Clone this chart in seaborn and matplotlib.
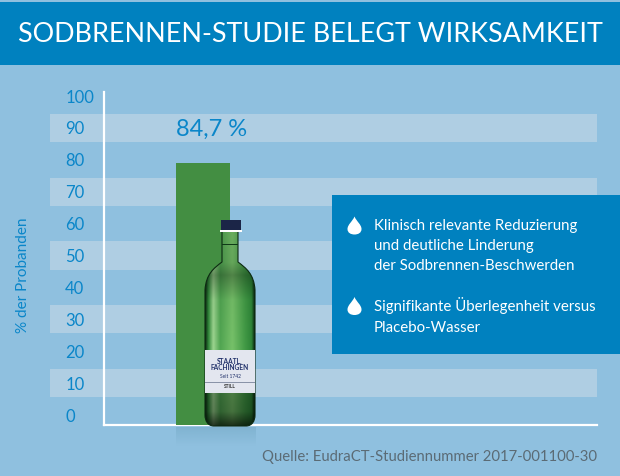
import numpy as np
import pandas as pd
import matplotlib
matplotlib.use("Agg")
import matplotlib.pyplot as plt
import seaborn as sns
from matplotlib.colors import LinearSegmentedColormap, to_rgb
from matplotlib.patches import Rectangle, PathPatch
from matplotlib.path import Path

# =====================
# Data
# =====================
categories = ["Sodbrennen-Studie"]
bar_top = [79.0]          # where the bar ends on the printed axis
bar_label = "84,7 %"
y_ticks = [0, 10, 20, 30, 40, 50, 60, 70, 80, 90, 100]
band_ticks = [90, 70, 50, 30, 10]
title = "SODBRENNEN-STUDIE BELEGT WIRKSAMKEIT"
y_label = "% der Probanden"
source = "Quelle: EudraCT-Studiennummer 2017-001100-30"
box_lines_1 = "Klinisch relevante Reduzierung\nund deutliche Linderung\nder Sodbrennen-Beschwerden"
box_lines_2 = "Signifikante Überlegenheit versus\nPlacebo-Wasser"

BG = "#8fc0df"
BAND = "#afcee3"
BLUE = "#0081bf"
TEXT = "#0a86c9"
GREEN = "#438e42"
FONT = "Lato"
W, H = 620, 476

sns.set_theme(style="white")
plt.rcParams["font.family"] = [FONT, "DejaVu Sans"]

fig = plt.figure(figsize=(W / 100, H / 100), dpi=100, facecolor=BG)

# chart axes, placed in pixels
left, right, top, bottom = 104, 597, 92, 425
ax = fig.add_axes([left / W, 1 - bottom / H, (right - left) / W, (bottom - top) / H])
ax.patch.set_alpha(0)
px_per_unit = 3.19
y0_px = 415
floor = -(bottom - y0_px) / px_per_unit
ax.set_ylim(floor, (y0_px - top) / px_per_unit)

df = pd.DataFrame({"cat": categories, "height": [bar_top[0] - floor]})
sns.barplot(data=df, x="cat", y="height", color=GREEN, saturation=1, bottom=floor,
            width=1, linewidth=0, ax=ax, zorder=3)
ax.set_xlim(-1.833, 7.297)  # bar spans about x 176..230 px

ax.set_axisbelow(False)
ax.set_yticks(y_ticks)
ax.set_yticklabels([str(t) for t in y_ticks], fontsize=12, color=TEXT, ha="left")
ax.tick_params(axis="y", length=0, pad=28)
ax.set_xticks([])
ax.set_xlabel("")
ax.set_ylabel("")
for s in ["top", "right"]:
    ax.spines[s].set_visible(False)
for s in ["left", "bottom"]:
    ax.spines[s].set_color("white")
    ax.spines[s].set_linewidth(1.6)
    ax.spines[s].set_zorder(2)

# bands run past the axes on the left
trans = ax.get_yaxis_transform()
for t in band_ticks:
    ax.add_patch(Rectangle((-54 / (right - left), t - 4.45), 547 / (right - left), 8.9,
                           transform=trans, color=BAND, lw=0, zorder=1, clip_on=False))

ax.text(0.167, 89.6, bar_label, ha="center", va="center", fontsize=17, color=TEXT, zorder=5)
fig.text(23 / W, 1 - 275 / H, y_label, rotation=90, ha="center", va="center",
         fontsize=11, color=TEXT)

# overlay in pixel coordinates for header, box and bottle
ov = fig.add_axes([0, 0, 1, 1], zorder=5)
ov.axis("off")
ov.patch.set_alpha(0)

ov.add_patch(Rectangle((0, 1.5), W, 63.5, color=BLUE, lw=0))
ov.text(W / 2, 35, title, ha="center", va="center", fontsize=19.4, color="white")

# info box
ov.add_patch(Rectangle((332, 195), 288, 159, color=BLUE, lw=0))
ov.text(374, 246, box_lines_1, va="center", fontsize=10.8, color="white", linespacing=1.55)
ov.text(374, 316, box_lines_2, va="center", fontsize=10.8, color="white", linespacing=1.55)


def drop(cx, cy):
    verts = [(cx, cy - 10), (cx + 2, cy - 5), (cx + 7, cy - 2), (cx + 7, cy + 2.5),
             (cx + 7, cy + 6.5), (cx + 3.5, cy + 8), (cx, cy + 8),
             (cx - 3.5, cy + 8), (cx - 7, cy + 6.5), (cx - 7, cy + 2.5),
             (cx - 7, cy - 2), (cx - 2, cy - 5), (cx, cy - 10)]
    codes = [Path.MOVETO] + [Path.CURVE4] * 12
    ov.add_patch(PathPatch(Path(verts, codes), fc="white", lw=0))


drop(354.5, 226.5)
drop(354.5, 307)

# soft reflection under bar and bottle
refl = np.zeros((40, 1, 4))
refl[..., :3] = to_rgb("#6fa4c0")
refl[..., 3] = np.linspace(0.45, 0, 40).reshape(-1, 1)
ov.imshow(refl, extent=(176, 256, 446, 427), aspect="auto", zorder=1)

# bottle body, curved shoulders
verts = [(222, 231), (222, 250), (222, 258), (222, 262),
         (214, 268), (206, 274), (205, 290),
         (205, 415), (205, 421), (208, 426), (214, 426),
         (246, 426), (252, 426), (255, 421), (255, 415),
         (255, 290), (254, 274), (246, 268), (238, 262),
         (238, 258), (238, 250), (238, 231), (222, 231)]
codes = [Path.MOVETO, Path.LINETO, Path.LINETO, Path.LINETO,
         Path.CURVE4, Path.CURVE4, Path.CURVE4,
         Path.LINETO, Path.CURVE4, Path.CURVE4, Path.CURVE4,
         Path.LINETO, Path.CURVE4, Path.CURVE4, Path.CURVE4,
         Path.LINETO, Path.CURVE4, Path.CURVE4, Path.CURVE4,
         Path.LINETO, Path.LINETO, Path.LINETO, Path.CLOSEPOLY]
shape = PathPatch(Path(verts, codes), fc="none", ec="#0d2a12", lw=0.8, zorder=3.5)
ov.add_patch(shape)
glass = LinearSegmentedColormap.from_list(
    "glass", [(0, "#0d2a12"), (0.06, "#2a7a33"), (0.16, "#8fc283"), (0.3, "#49964a"),
              (0.55, "#6cb060"), (0.8, "#3d8d40"), (0.94, "#2a7a33"), (1, "#0d2a12")])
profile = glass(np.linspace(0, 1, 60))[:, :3]
# darker at the shoulder and foot, brightest in the middle of the body
shade = np.interp(np.linspace(219, 427, 200), [219, 262, 275, 300, 350, 395, 412, 427],
                  [1.0, 0.95, 0.75, 1.05, 1.1, 0.7, 0.65, 0.25])
body = np.clip(shade[:, None, None] * profile[None, :, :], 0, 1)
img = ov.imshow(body, extent=(205, 255, 427, 219), aspect="auto", zorder=3)
img.set_clip_path(shape)
ov.add_patch(Rectangle((222, 243.5), 16, 1.4, fc="#0f3a17", lw=0, zorder=4))
ov.add_patch(Rectangle((220.5, 219.5), 20, 10, fc="#1b2547", lw=0, zorder=4))
ov.add_patch(Rectangle((219.5, 229.5), 22, 2, fc="white", lw=0, zorder=4))

# bottle label
ov.add_patch(Rectangle((205, 350), 50, 43, fc="#e3e6ef", lw=0, zorder=4))
ov.add_patch(Rectangle((205, 382), 50, 0.8, fc="#8a93a8", lw=0, zorder=5))
ov.text(230, 361, "STAATL.", ha="center", va="center", fontsize=4.8, fontweight="bold",
        color="#22326b", zorder=5)
ov.text(230, 368, "FACHINGEN", ha="center", va="center", fontsize=4.8, fontweight="bold",
        color="#22326b", zorder=5)
ov.text(230, 376.5, "Seit 1742", ha="center", va="center", fontsize=3.5, color="#22326b", zorder=5)
ov.text(230, 386.5, "STILL", ha="center", va="center", fontsize=3.5, fontweight="bold",
        color="#333333", zorder=5)

ov.text(597, 457, source, ha="right", va="center", fontsize=10.7, color="#5b6b75")

ov.set_xlim(0, W)
ov.set_ylim(H, 0)

plt.savefig("out.png", dpi=100, facecolor=BG)
